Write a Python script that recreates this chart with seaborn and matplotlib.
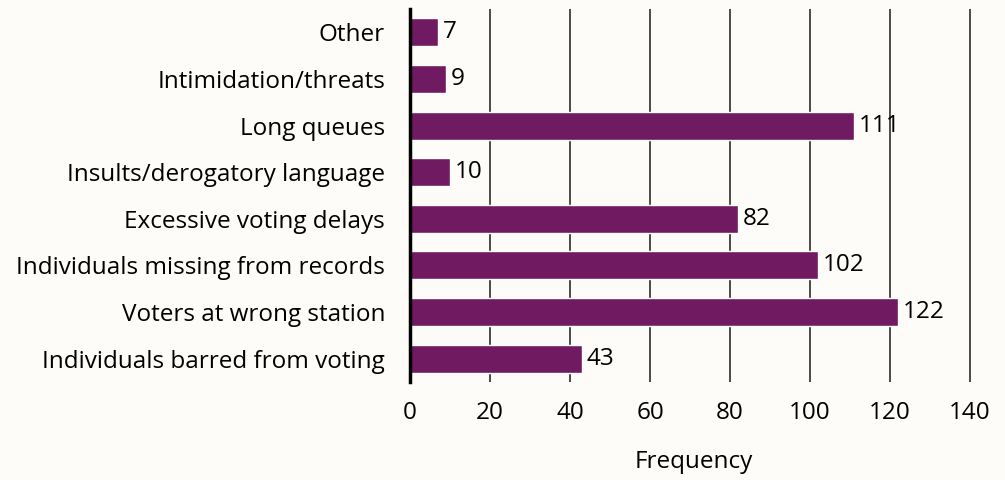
import pandas as pd
import matplotlib
matplotlib.use("Agg")
import matplotlib.pyplot as plt
import seaborn as sns

# categories from top to bottom
categories = [
    "Other",
    "Intimidation/threats",
    "Long queues",
    "Insults/derogatory language",
    "Excessive voting delays",
    "Individuals missing from records",
    "Voters at wrong station",
    "Individuals barred from voting",
]
frequency = [7, 9, 111, 10, 82, 102, 122, 43]
x_ticks = [0, 20, 40, 60, 80, 100, 120, 140]

df = pd.DataFrame({"category": categories, "frequency": frequency})

sns.set_theme(style="white")
plt.rcParams["font.family"] = ["Open Sans", "DejaVu Sans"]
plt.rcParams["text.color"] = "black"
plt.rcParams["xtick.color"] = "black"
plt.rcParams["ytick.color"] = "black"
plt.rcParams["axes.labelcolor"] = "black"

bar_color = "#701a62"
bg = "#fdfcf8"
fs = 17.5

fig = plt.figure(figsize=(10.05, 4.8), dpi=100, facecolor=bg)
ax = fig.add_axes([410 / 1005, 1 - 382 / 480, 568 / 1005, 373 / 480])
ax.set_facecolor(bg)

sns.barplot(data=df, x="frequency", y="category", order=categories,
            color=bar_color, width=0.6, saturation=1, ax=ax)

# vertical gridlines
for t in x_ticks[1:]:
    ax.axvline(t, color="#1a1a1a", lw=1.1, zorder=0)

ax.set_xlim(0, 142)
ax.set_ylim(7.5, -0.5)
ax.set_xticks(x_ticks)
ax.tick_params(axis="x", length=0, pad=14, labelsize=fs)
ax.tick_params(axis="y", length=0, pad=18, labelsize=fs)
ax.set_xlabel("Frequency", fontsize=fs, labelpad=18)
ax.set_ylabel("")

for s in ["top", "right", "bottom"]:
    ax.spines[s].set_visible(False)
ax.spines["left"].set_linewidth(2.5)
ax.spines["left"].set_color("black")

# value labels at bar ends
for i, v in enumerate(frequency):
    ax.text(v + 1.2, i, str(v), va="center", ha="left", fontsize=fs, color="black")

fig.savefig("out.png", dpi=100, facecolor=bg)
